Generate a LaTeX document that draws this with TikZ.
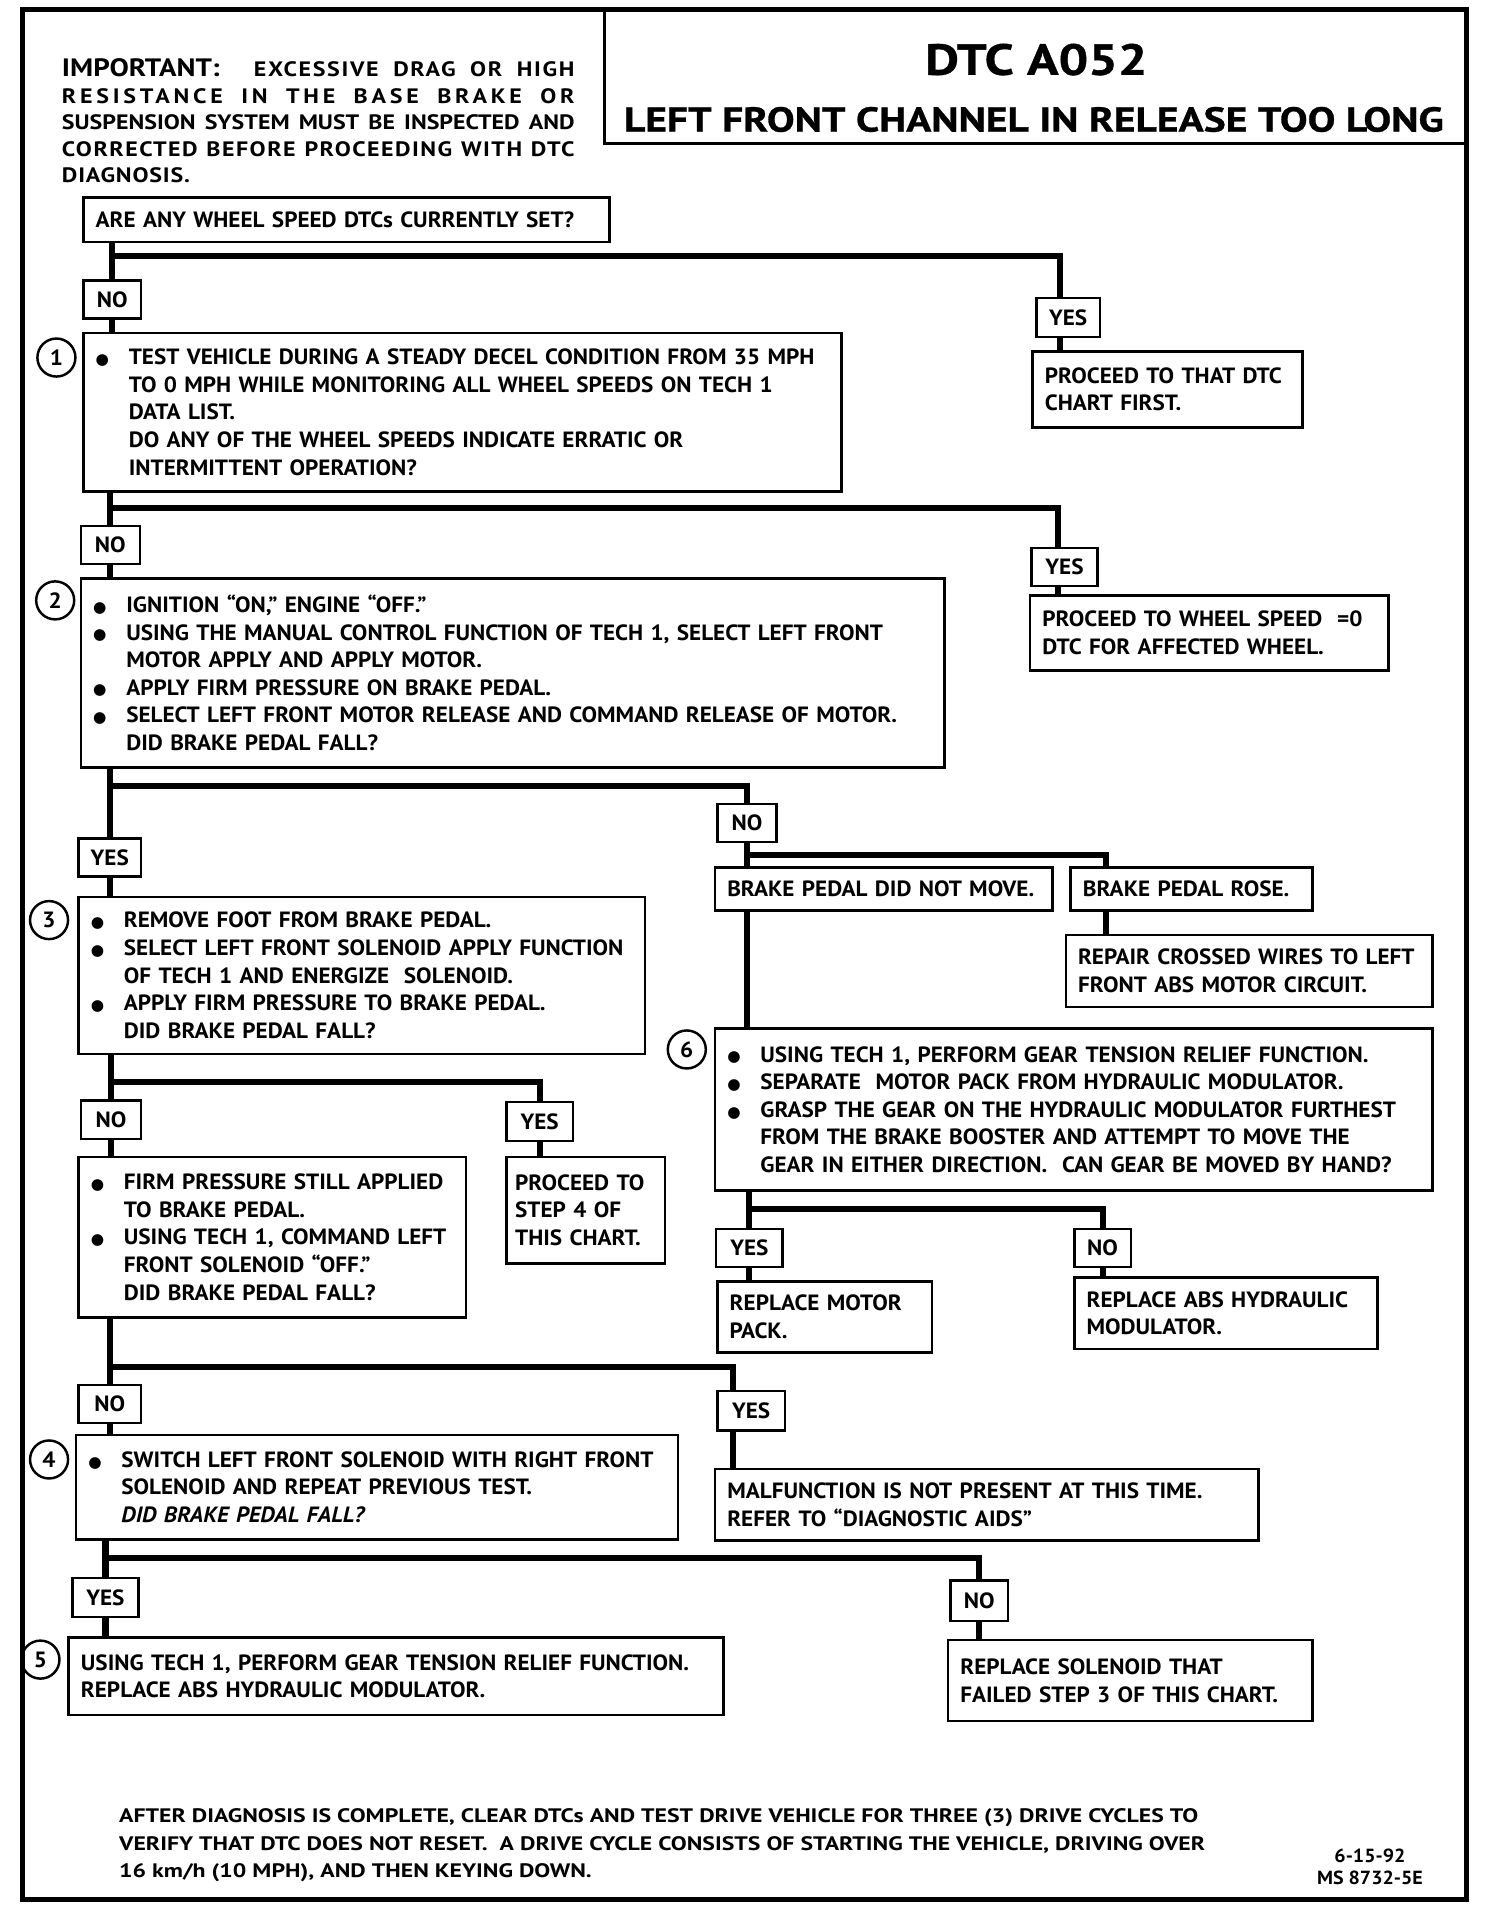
\documentclass[tikz,border=0pt]{standalone}
\usepackage{fontspec}
\setmainfont{PT Sans}[UprightFont=* Bold, ItalicFont=* Bold Italic, BoldFont=* Bold, FakeStretch=1.05]
\newfontfamily\wfont{PT Sans}[UprightFont=* Bold, FakeStretch=1.22]
\newfontfamily\ifont{PT Sans}[UprightFont=* Bold, FakeStretch=1.15]
\newfontfamily\tfont{PT Sans}[UprightFont=* Bold, FakeStretch=1.2, FakeBold=0.8]
\newfontfamily\djv{DejaVu Sans}
\usetikzlibrary{calc}
\newcommand\bodyfont{\fontsize{18}{22.5}\selectfont}
\newcommand\mybul{\makebox[27pt][l]{\raisebox{0.3pt}{\djv\fontsize{12.5}{12}\selectfont ●}}}
\newcommand\myind{\hspace*{27pt}}
\newcommand\ml[1]{\mbox{#1}}
\tikzset{
  every node/.style={font=\bodyfont},
  box/.style={draw, line width=2pt, anchor=north west, inner xsep=10pt, inner ysep=0pt, align=left, outer sep=0pt},
  lab/.style={draw, line width=2pt, anchor=north west, inner sep=0pt, outer sep=0pt},
  conn/.style={line width=5pt, line join=miter},
  circ/.style={circle, draw, line width=2pt, minimum size=31pt, inner sep=0pt},
}
\begin{document}
\begin{tikzpicture}[x=1pt, y=-1pt]
\useasboundingbox (0,0) rectangle (1213,1559);
% frame and title box
\draw[line width=4pt] (18,8) rectangle (1196,1548.5);
\draw[line width=3pt] (493,8) -- (493,117) -- (1196,117);
\node[anchor=base, inner sep=0pt, font=\tfont\fontsize{35.5}{36}\selectfont] (t1) at (845,61) {DTC A052};
\node[anchor=base, inner sep=0pt, font=\tfont\fontsize{28.2}{28}\selectfont] (t2) at (843,107.3) {LEFT FRONT CHANNEL IN RELEASE TOO LONG};
\node[anchor=base west, inner sep=0pt, align=left, font=\ifont\fontsize{17}{21.6}\selectfont] (imp) at (50.3,148.9) {%
\makebox[418pt][s]{{\fontsize{20.5}{21.6}\selectfont IMPORTANT:}\ \ \ \addfontfeature{LetterSpace=8}EXCESSIVE DRAG OR HIGH}\\
\makebox[418pt][s]{\addfontfeature{LetterSpace=18}RESISTANCE IN THE BASE BRAKE OR}\\
\makebox[418pt][s]{SUSPENSION SYSTEM MUST BE INSPECTED AND}\\
\makebox[418pt][s]{\addfontfeature{LetterSpace=7}CORRECTED BEFORE PROCEEDING WITH DTC}\\
{\addfontfeature{LetterSpace=4}DIAGNOSIS.}};
% footer
\node[anchor=base west, inner sep=0pt, align=left, font=\wfont\fontsize{15.9}{22.5}\selectfont] (foot) at (97,1531) {%
AFTER DIAGNOSIS IS COMPLETE, CLEAR DTCs AND TEST DRIVE VEHICLE FOR THREE (3) DRIVE CYCLES TO\\
VERIFY THAT DTC DOES NOT RESET.\ \ A DRIVE CYCLE CONSISTS OF STARTING THE VEHICLE, DRIVING OVER\\
16 km/h (10 MPH), AND THEN KEYING DOWN.};
\node[anchor=base, inner sep=0pt, align=center, font=\fontsize{15.5}{18}\selectfont] (date) at (1117,1536.5) {6-15-92\\MS 8732-5E};
\begin{scope}[yscale=0.995, yshift=2pt]
% boxes
\node[box, text width=409pt, minimum height=36pt] (Q0) at (68,164) {\ml{ARE ANY WHEEL SPEED DTCs CURRENTLY SET?}};
\node[lab, minimum width=47pt, minimum height=31pt] (NO1) at (68,232) {NO};
\node[lab, minimum width=52pt, minimum height=32pt] (YES1) at (845,246) {YES};
\node[box, text width=598pt, minimum height=129pt] (B1) at (68,275) {%
\ml{\mybul TEST VEHICLE DURING A STEADY DECEL CONDITION FROM 35 MPH}\\
\ml{\myind TO 0 MPH WHILE MONITORING ALL WHEEL SPEEDS ON TECH 1}\\
\ml{\myind DATA LIST.}\\
\ml{\myind DO ANY OF THE WHEEL SPEEDS INDICATE ERRATIC OR}\\
\ml{\myind INTERMITTENT OPERATION?}};
\node[box, text width=200pt, minimum height=62pt] (P1) at (842,290) {\ml{PROCEED TO THAT DTC}\\\ml{CHART FIRST.}};
\node[lab, minimum width=48pt, minimum height=31pt] (NO2) at (66,433) {NO};
\node[lab, minimum width=54pt, minimum height=31pt] (YES2) at (841,451) {YES};
\node[box, text width=272pt, minimum height=61pt] (P2) at (840,490) {\ml{PROCEED TO WHEEL SPEED\ \ =0}\\\ml{DTC FOR AFFECTED WHEEL.}};
\node[box, text width=684pt, minimum height=154pt] (B2) at (66,476) {%
\ml{\mybul IGNITION “ON,” ENGINE “OFF.”}\\
\ml{\mybul USING THE MANUAL CONTROL FUNCTION OF TECH 1, SELECT LEFT FRONT}\\
\ml{\myind MOTOR APPLY AND APPLY MOTOR.}\\
\ml{\mybul APPLY FIRM PRESSURE ON BRAKE PEDAL.}\\
\ml{\mybul SELECT LEFT FRONT MOTOR RELEASE AND COMMAND RELEASE OF MOTOR.}\\
\ml{\myind DID BRAKE PEDAL FALL?}};
\node[lab, minimum width=48pt, minimum height=31pt] (NO3) at (585,661) {NO};
\node[lab, minimum width=51pt, minimum height=31pt] (YES3) at (64,689) {YES};
\node[box, text width=255pt, minimum height=35pt] (DNM) at (583,713) {\ml{BRAKE PEDAL DID NOT MOVE.}};
\node[box, text width=177pt, minimum height=35pt] (ROSE) at (873,713) {\ml{BRAKE PEDAL ROSE.}};
\node[box, text width=279pt, minimum height=59pt] (REP) at (869,768) {\ml{REPAIR CROSSED WIRES TO LEFT}\\\ml{FRONT ABS MOTOR CIRCUIT.}};
\node[box, text width=565pt, minimum height=132pt] (B6) at (583,845) {%
\ml{\mybul USING TECH 1, PERFORM GEAR TENSION RELIEF FUNCTION.}\\
\ml{\mybul SEPARATE\ \ MOTOR PACK FROM HYDRAULIC MODULATOR.}\\
\ml{\mybul GRASP THE GEAR ON THE HYDRAULIC MODULATOR FURTHEST}\\
\ml{\myind FROM THE BRAKE BOOSTER AND ATTEMPT TO MOVE THE}\\
\ml{\myind GEAR IN EITHER DIRECTION.\ \ CAN GEAR BE MOVED BY HAND?}};
\node[lab, minimum width=54pt, minimum height=31pt] (YES6) at (584,1009) {YES};
\node[lab, minimum width=46pt, minimum height=31pt] (NO6) at (876,1009) {NO};
\node[box, text width=155pt, minimum height=58pt] (RMP) at (585,1052) {\ml{REPLACE MOTOR}\\\ml{PACK.}};
\node[box, text width=227pt, minimum height=58pt] (RAHM) at (876,1049) {\ml{REPLACE ABS HYDRAULIC}\\\ml{MODULATOR.}};
\node[box, text width=442pt, minimum height=128pt] (B3) at (64,737) {%
\ml{\mybul REMOVE FOOT FROM BRAKE PEDAL.}\\
\ml{\mybul SELECT LEFT FRONT SOLENOID APPLY FUNCTION}\\
\ml{\myind OF TECH 1 AND ENERGIZE\ \ SOLENOID.}\\
\ml{\mybul APPLY FIRM PRESSURE TO BRAKE PEDAL.}\\
\ml{\myind DID BRAKE PEDAL FALL?}};
\node[lab, minimum width=49pt, minimum height=31pt] (NO4) at (66,904) {NO};
\node[lab, minimum width=54pt, minimum height=32pt] (YES4) at (413,905) {YES};
\node[box, inner xsep=7pt, text width=115pt, minimum height=87pt] (PS4) at (413,950) {\ml{PROCEED TO}\\\ml{STEP 4 OF}\\\ml{THIS CHART.}};
\node[box, text width=296pt, minimum height=131pt] (B3b) at (64,950) {%
\ml{\mybul FIRM PRESSURE STILL APPLIED}\\
\ml{\myind TO BRAKE PEDAL.}\\
\ml{\mybul USING TECH 1, COMMAND LEFT}\\
\ml{\myind FRONT SOLENOID “OFF.”}\\
\ml{\myind DID BRAKE PEDAL FALL?}};
\node[lab, minimum width=51pt, minimum height=31pt] (NO5) at (64,1137) {NO};
\node[lab, minimum width=55pt, minimum height=32pt] (YES5) at (585,1142) {YES};
\node[box, text width=423pt, minimum height=58pt] (MAL) at (583,1206) {\ml{MALFUNCTION IS NOT PRESENT AT THIS TIME.}\\\ml{REFER TO “DIAGNOSTIC AIDS”}};
\node[box, text width=471pt, minimum height=85pt] (B4) at (62,1178) {%
\ml{\mybul SWITCH LEFT FRONT SOLENOID WITH RIGHT FRONT}\\
\ml{\myind SOLENOID AND REPEAT PREVIOUS TEST.}\\
\ml{\myind\itshape DID BRAKE PEDAL FALL?}};
\node[lab, minimum width=54pt, minimum height=32pt] (YES7) at (59,1295) {YES};
\node[lab, minimum width=47pt, minimum height=33pt] (NO7) at (775,1297) {NO};
\node[box, text width=277pt, minimum height=66pt] (RS) at (773,1346) {\ml{REPLACE SOLENOID THAT}\\\ml{FAILED STEP 3 OF THIS CHART.}};
\node[box, text width=514pt, minimum height=63pt] (B5) at (56,1344) {\ml{USING TECH 1, PERFORM GEAR TENSION RELIEF FUNCTION.}\\\ml{REPLACE ABS HYDRAULIC MODULATOR.}};
% step circles
\node[circ] (c1) at (46,295) {1};
\node[circ] (c2) at (45,494) {2};
\node[circ] (c3) at (40,756) {3};
\node[circ] (c6) at (560,862) {6};
\node[circ] (c4) at (40,1198) {4};
\node[circ] (c5) at (33,1362) {5};
% junctions
\coordinate (j1) at (91.5,212);
\coordinate (y1) at (864,212);
\coordinate (j2) at (90,418);
\coordinate (y2) at (863,418);
\coordinate (j3) at (89.5,646);
\coordinate (j4) at (609,703);
\coordinate (rx) at (902,703);
\coordinate (j6) at (611,993);
\coordinate (j5) at (90.5,889);
\coordinate (j7) at (89.5,1122);
\coordinate (y5) at (598,1122);
\coordinate (j8) at (86,1279);
% connectors
\draw[conn] (NO1.north |- Q0.south) -- (NO1.north);
\draw[conn] (NO1.south) -- (NO1.south |- B1.north);
\draw[conn] (j1) -- (y1) -- (y1 |- YES1.north);
\draw[conn] (y1 |- YES1.south) -- (y1 |- P1.north);
\draw[conn] (NO2.north |- B1.south) -- (NO2.north);
\draw[conn] (NO2.south) -- (NO2.south |- B2.north);
\draw[conn] (j2) -- (y2) -- (y2 |- YES2.north);
\draw[conn] (y2 |- YES2.south) -- (y2 |- P2.north);
\draw[conn] (YES3.north |- B2.south) -- (YES3.north);
\draw[conn] (YES3.south) -- (YES3.south |- B3.north);
\draw[conn] (j3) -| (NO3.north);
\draw[conn] (NO3.south) -- (NO3.south |- DNM.north);
\draw[conn] (j4) -- (rx) -- (rx |- ROSE.north);
\draw[conn] (rx |- ROSE.south) -- (rx |- REP.north);
\draw[conn] (NO3.south |- DNM.south) -- (NO3.south |- B6.north);
\draw[conn] (YES6.north |- B6.south) -- (YES6.north);
\draw[conn] (j6) -| (NO6.north);
\draw[conn] (YES6.south) -- (YES6.south |- RMP.north);
\draw[conn] (NO6.south) -- (NO6.south |- RAHM.north);
\draw[conn] (NO4.north |- B3.south) -- (NO4.north);
\draw[conn] (NO4.south) -- (NO4.south |- B3b.north);
\draw[conn] (j5) -| (YES4.north);
\draw[conn] (YES4.south) -- (YES4.south |- PS4.north);
\draw[conn] (NO5.north |- B3b.south) -- (NO5.north);
\draw[conn] (NO5.south) -- (NO5.south |- B4.north);
\draw[conn] (j7) -- (y5) -- (y5 |- YES5.north);
\draw[conn] (y5 |- YES5.south) -- (y5 |- MAL.north);
\draw[conn] (YES7.north |- B4.south) -- (YES7.north);
\draw[conn] (YES7.south) -- (YES7.south |- B5.north);
\draw[conn] (j8) -| (NO7.north);
\draw[conn] (NO7.south) -- (NO7.south |- RS.north);
\end{scope}
\end{tikzpicture}
\end{document}
